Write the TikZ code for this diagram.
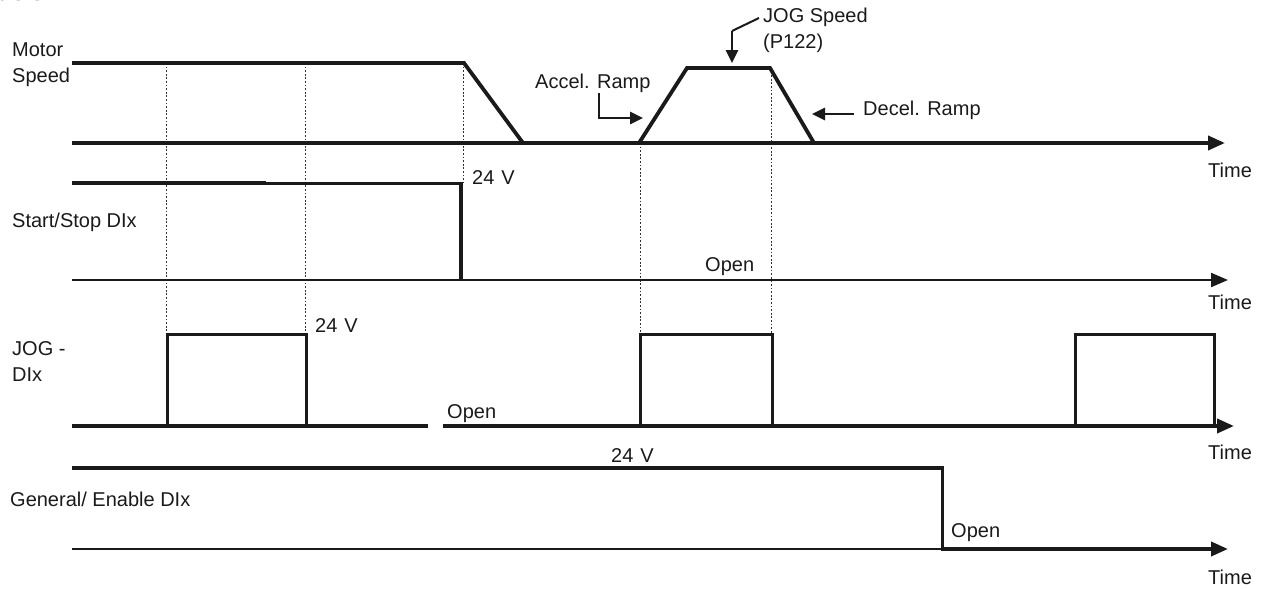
\documentclass[tikz,border=0pt]{standalone}
\usepackage{fontspec}
\setmainfont{Liberation Sans}
\usetikzlibrary{arrows.meta}
\definecolor{ink}{HTML}{1A1A1A}
\tikzset{
  lbl/.style={inner sep=0pt, anchor=west, align=left, font=\fontsize{20}{26}\selectfont, text=ink},
  sig/.style={draw=ink, line width=3.8pt, line join=miter, line cap=butt},
  midsig/.style={draw=ink, line width=3pt, line join=miter},
  thinsig/.style={draw=ink, line width=2.1pt},
  guide/.style={draw=ink!90, line width=1pt, dash pattern=on 1.8pt off 1.8pt},
  axis/.style={-{Triangle[length=17pt,width=14pt]}},
  ptr/.style={draw=ink, line width=2.8pt, -{Triangle[length=13pt,width=12pt]}},
}
\begin{document}
\begin{tikzpicture}[x=1pt,y=-1pt]
\useasboundingbox (0,0) rectangle (1262,589);
% cut-off title remnant (cropped in the original)
\node[inner sep=0pt, anchor=base west, font=\fontsize{24}{28}\selectfont, text=ink] (title) at (-3,0.5) {JOG};

% ---------- guide lines ----------
\draw[guide] (166,63) -- (166,334);
\draw[guide] (305,63) -- (305,334);
\draw[guide] (463,63) -- (463,183);
\draw[guide] (640,143) -- (640,334);
\draw[guide] (771,68) -- (771,334);

% ---------- Motor speed ----------
\node[lbl] (motor) at (12,65) {Motor\\Speed};
\coordinate (m0) at (72,143);
\coordinate (m1) at (1225,143);
\draw[sig, axis] (m0) -- (m1);
\draw[sig] (72,63) -- (464,63) -- (523,143);
\draw[sig] (639,143) -- (687,68) -- (770,68) -- (814,143);
\node[lbl] (t1) at (1208,170) {Time};

\node[lbl] (jogsp) at (763,30) {JOG Speed\\(P122)};
\coordinate (js0) at (759,18);
\coordinate (js1) at (732,31);
\coordinate (js2) at (732,63);
\draw[draw=ink, line width=2pt] (js0) -- (js1);
\draw[ptr] (js1) -- (js2);

\node[lbl] (accel) at (535,83) {Accel. Ramp};
\coordinate (ac1) at (599,93);
\coordinate (ac2) at (599,118);
\coordinate (ac3) at (643,118);
\draw[ptr] (ac1) -- (ac2) -- (ac3);

\node[lbl] (decel) at (863,110) {Decel. Ramp};
\coordinate (dc1) at (854,114);
\coordinate (dc2) at (812,114);
\draw[ptr] (dc1) -- (dc2);

% ---------- Start/Stop ----------
\node[lbl] (ss) at (12,222) {Start/Stop DIx};
\draw[thinsig, axis] (72,280) -- (1228,280);
\draw[sig] (72,183) -- (266,183);
\draw[midsig] (266,183) -- (461,183);
\draw[sig] (461,181.5) -- (461,280);
\node[lbl] (v1) at (472,178) {24\hspace{0.35em}V};
\node[lbl] (o1) at (705,267) {Open};
\node[lbl] (t2) at (1208,302) {Time};

% ---------- JOG DIx ----------
\node[lbl] (jog) at (12,362) {JOG -\\DIx};
\draw[sig] (72,426) -- (428,426);
\draw[sig, axis] (443,426) -- (1234,426);
\draw[midsig] (167,426) -- (167,334) -- (306,334) -- (306,426);
\draw[midsig] (640,426) -- (640,334) -- (772,334) -- (772,426);
\draw[midsig] (1075,426) -- (1075,334) -- (1214,334) -- (1214,426);
\node[lbl] (v2) at (315,326) {24\hspace{0.35em}V};
\node[lbl] (o2) at (447,414) {Open};
\node[lbl] (t3) at (1208,452) {Time};

% ---------- General enable ----------
\node[lbl] (gen) at (10,499) {General/ Enable DIx};
\draw[thinsig] (72,549) -- (942,549);
\draw[sig] (72,468) -- (943.5,468);
\draw[midsig] (942,468) -- (942,549);
\draw[sig, axis] (940.5,549) -- (1228,549);
\node[lbl] (v3) at (611,456) {24\hspace{0.35em}V};
\node[lbl] (o3) at (951,533) {Open};
\node[lbl] (t4) at (1208,577) {Time};
\end{tikzpicture}
\end{document}
